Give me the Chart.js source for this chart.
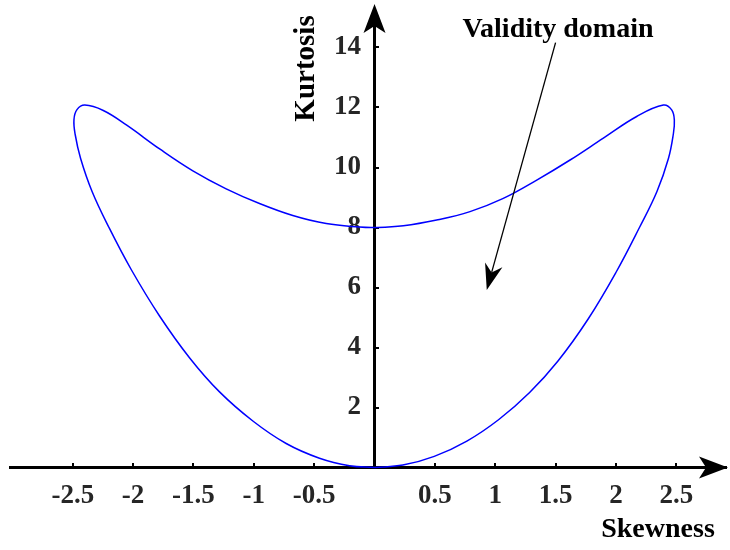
<!DOCTYPE html>
<html>
<head>
<meta charset="utf-8">
<script src="https://cdn.jsdelivr.net/npm/chart.js@4.4.0/dist/chart.umd.min.js"></script>
<style>
  html, body { margin: 0; padding: 0; background: #fff; }
</style>
</head>
<body>
<canvas id="chart" width="730" height="550"></canvas>
<script>
// closed boundary of the validity domain
// (lower-left branch, upper curve, lower-right branch back to origin)
const skewness = [
  0, -0.207, -0.456, -0.732, -1.008, -1.284, -1.533, -1.781, -2.016, -2.2,
  -2.34, -2.435, -2.48, -2.49, -2.465, -2.40,
  -2.247, -2.053, -1.777, -1.505, -1.229, -0.953, -0.677, -0.40, -0.124, 0,
  0.239, 0.515, 0.791, 1.067, 1.344, 1.62, 1.896, 2.172, 2.393, 2.462, 2.484,
  2.475, 2.435, 2.34, 2.195, 2.0, 1.77, 1.52, 1.285, 1.03, 0.765,
  0.495, 0.235, 0
];
const kurtosis = [
  0, 0.06, 0.31, 0.80, 1.55, 2.52, 3.66, 5.05, 6.6, 8.0,
  9.2, 10.3, 11.1, 11.6, 11.93, 12.08,
  11.90, 11.41, 10.61, 9.89, 9.29, 8.80, 8.40, 8.13, 8.015, 8.0,
  8.06, 8.25, 8.53, 8.97, 9.58, 10.25, 10.98, 11.70, 12.08, 11.92, 11.58,
  11.1, 10.3, 9.2, 8.0, 6.5, 4.95, 3.55, 2.5, 1.6, 0.88,
  0.37, 0.08, 0
];

const xTicks = [-2.5, -2, -1.5, -1, -0.5, 0.5, 1, 1.5, 2, 2.5];
const yTicks = [2, 4, 6, 8, 10, 12, 14];
const xRange = [-3.02, 2.912];
const yRange = [0, 15];

const xTitle = 'Skewness';
const yTitle = 'Kurtosis';
const noteText = 'Validity domain';
const noteAt = [1.52, 14.36];
const arrowFrom = [1.5, 14.16];
const arrowTo = [0.93, 5.92];

const serif = '"Liberation Serif", "Times New Roman", serif';
const labelColor = '#262626';

// arrow head with a notched back, tip at (x, y), pointing along angle
function arrowHead(ctx, x, y, angle, len, half, notch) {
    ctx.save();
    ctx.translate(x, y);
    ctx.rotate(angle);
    ctx.beginPath();
    ctx.moveTo(0, 0);
    ctx.lineTo(-len, -half);
    ctx.lineTo(-notch, 0);
    ctx.lineTo(-len, half);
    ctx.closePath();
    ctx.fillStyle = '#000';
    ctx.fill();
    ctx.restore();
}

// axes sit inside the plot, so keep their label padding out of the layout
function noPadding(scale) {
    scale.paddingTop = 0;
    scale.paddingBottom = 0;
    scale.paddingLeft = 0;
    scale.paddingRight = 0;
}

const decorations = {
    id: 'decorations',
    afterDatasetsDraw(chart) {
        const ctx = chart.ctx;
        const xs = chart.scales.x, ys = chart.scales.y;
        const x0 = xs.getPixelForValue(0);
        const y0 = ys.getPixelForValue(0);

        // axis arrows
        arrowHead(ctx, x0, 4, -Math.PI / 2, 29, 11, 22);
        arrowHead(ctx, 728, y0, 0, 29, 11, 22);

        // axis titles
        ctx.save();
        ctx.fillStyle = '#000';
        ctx.textAlign = 'center';
        ctx.textBaseline = 'alphabetic';
        ctx.font = 'bold 28px ' + serif;
        ctx.fillText(xTitle, 658, 537);
        ctx.font = 'bold 29px ' + serif;
        ctx.translate(x0 - 61, 68.5);
        ctx.rotate(-Math.PI / 2);
        ctx.fillText(yTitle, 0, 0);
        ctx.restore();

        // annotation
        const fx = xs.getPixelForValue(arrowFrom[0]), fy = ys.getPixelForValue(arrowFrom[1]);
        const tx = xs.getPixelForValue(arrowTo[0]), ty = ys.getPixelForValue(arrowTo[1]);
        const ang = Math.atan2(ty - fy, tx - fx);
        ctx.save();
        ctx.strokeStyle = '#000';
        ctx.lineWidth = 1.3;
        ctx.beginPath();
        ctx.moveTo(fx, fy);
        ctx.lineTo(tx - 18 * Math.cos(ang), ty - 18 * Math.sin(ang));
        ctx.stroke();
        arrowHead(ctx, tx, ty, ang, 26, 9, 18);
        ctx.fillStyle = '#000';
        ctx.font = 'bold 28px ' + serif;
        ctx.textAlign = 'center';
        ctx.textBaseline = 'alphabetic';
        ctx.fillText(noteText, xs.getPixelForValue(noteAt[0]), ys.getPixelForValue(noteAt[1]));
        ctx.restore();
    }
};

const points = skewness.map((s, i) => ({ x: s, y: kurtosis[i] }));

new Chart(document.getElementById('chart'), {
    type: 'scatter',
    data: {
        datasets: [{
            data: points,
            showLine: true,
            borderColor: '#0000ff',
            borderWidth: 1.5,
            pointRadius: 0,
            tension: 0.4,
            clip: false
        }]
    },
    options: {
        responsive: false,
        animation: false,
        devicePixelRatio: 1,
        layout: { padding: { left: 10, right: 4, top: 17.5, bottom: 82.5 } },
        plugins: {
            legend: { display: false },
            tooltip: { enabled: false }
        },
        scales: {
            x: {
                type: 'linear',
                position: { y: 0 },
                min: xRange[0],
                max: xRange[1],
                afterFit: noPadding,
                afterBuildTicks: (s) => { s.ticks = xTicks.map(v => ({ value: v })); },
                grid: { drawOnChartArea: false, drawTicks: true, tickLength: -6, lineWidth: 2, color: '#000' },
                border: { display: true, color: '#000', width: 3 },
                ticks: {
                    autoSkip: false,
                    maxRotation: 0,
                    padding: 18,
                    color: labelColor,
                    font: { family: serif, size: 27, weight: 'bold' },
                    callback: (v) => String(v)
                }
            },
            y: {
                type: 'linear',
                position: { x: 0 },
                min: yRange[0],
                max: yRange[1],
                afterFit: noPadding,
                afterBuildTicks: (s) => { s.ticks = yTicks.map(v => ({ value: v })); },
                grid: { drawOnChartArea: false, drawTicks: true, tickLength: -6, lineWidth: 2, color: '#000' },
                border: { display: true, color: '#000', width: 3 },
                ticks: {
                    autoSkip: false,
                    padding: 18,
                    color: labelColor,
                    font: { family: serif, size: 27, weight: 'bold' },
                    // labels are right-aligned on the axis line; two spaces keep them clear of it
                    callback: (v) => String(v) + '  '
                }
            }
        }
    },
    plugins: [decorations]
});
</script>
</body>
</html>
